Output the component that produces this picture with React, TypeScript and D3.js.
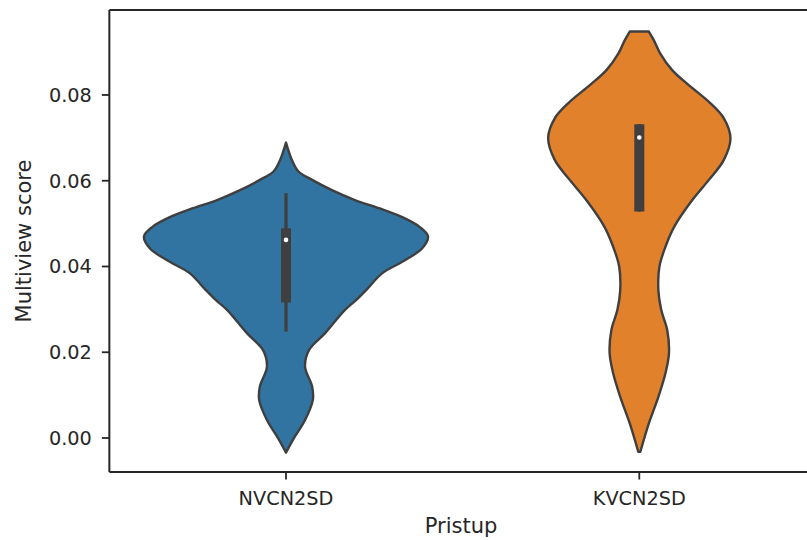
import React from "react";
import * as d3 from "d3";

const categories = ["NVCN2SD", "KVCN2SD"];
const colors = ["#3274a1", "#e1812c"];

// density outlines: value along y, half-width in category units
const nvValues = [0.0689, 0.0648, 0.0621, 0.0602, 0.0578, 0.0555, 0.0536, 0.0515, 0.0493, 0.047, 0.0442, 0.0411, 0.0384, 0.0345, 0.0322, 0.0299, 0.0244, 0.0205, 0.0166, 0.012, 0.0089, 0.0042, 0.0003, -0.0034];
const nvWidths = [0, 0.017, 0.036, 0.074, 0.13, 0.195, 0.263, 0.329, 0.377, 0.402, 0.385, 0.329, 0.272, 0.227, 0.199, 0.167, 0.11, 0.065, 0.054, 0.074, 0.076, 0.054, 0.025, 0];
const kvValues = [0.0948, 0.0928, 0.0897, 0.0858, 0.0823, 0.0784, 0.0746, 0.0699, 0.0648, 0.0602, 0.0555, 0.0493, 0.0446, 0.04, 0.0345, 0.0299, 0.0252, 0.0198, 0.0151, 0.0096, 0.0034, -0.0032];
const kvWidths = [0.027, 0.041, 0.059, 0.093, 0.14, 0.197, 0.239, 0.258, 0.239, 0.197, 0.15, 0.099, 0.074, 0.057, 0.054, 0.062, 0.079, 0.084, 0.074, 0.054, 0.027, 0.003];

const medians = [0.0462, 0.0701];
const q1s = [0.0316, 0.0528];
const q3s = [0.0489, 0.0732];
const whiskerLo = [0.0248, 0.0528];
const whiskerHi = [0.0571, 0.0732];

const yTicks = [0, 0.02, 0.04, 0.06, 0.08];
const yLabel = "Multiview score";
const xLabel = "Pristup";

export default function App() {
  const W = 807, H = 540;
  const x = d3.scaleLinear().domain([0, 1]).range([286, 639.3]);
  const y = d3.scaleLinear().domain([-0.00793, 0.09982]).range([472, 10]);
  const unit = x(1) - x(0);
  const left = x(-0.5);
  const right = x(1.5);
  const top = y.range()[1];
  const bottom = y.range()[0];
  const font = "DejaVu Sans, sans-serif";
  const textColor = "#262626";
  const lineColor = "#3f3f3f";

  const outlines = [
    nvValues.map((v, i) => ({ v, w: nvWidths[i] })),
    kvValues.map((v, i) => ({ v, w: kvWidths[i] })),
  ];

  return (
    <svg width={W} height={H} style={{ position: "absolute", left: 0, top: 0, background: "#fff" }}>
      {categories.map((c, i) => {
        const cx = x(i);
        const area = d3
          .area<{ v: number; w: number }>()
          .y((d) => y(d.v))
          .x0((d) => cx - d.w * unit)
          .x1((d) => cx + d.w * unit)
          .curve(d3.curveCatmullRom.alpha(0.5));
        return (
          <g key={c}>
            <path d={area(outlines[i]) || ""} fill={colors[i]} stroke={lineColor} strokeWidth={2.4} strokeLinejoin="round" />
            <line x1={cx} x2={cx} y1={y(whiskerLo[i])} y2={y(whiskerHi[i])} stroke={lineColor} strokeWidth={3.3} />
            <line x1={cx} x2={cx} y1={y(q1s[i])} y2={y(q3s[i])} stroke={lineColor} strokeWidth={10} />
            <circle cx={cx} cy={y(medians[i])} r={2.3} fill="#fff" />
          </g>
        );
      })}
      {/* spines */}
      <line x1={left} x2={left} y1={top} y2={bottom} stroke={textColor} strokeWidth={2} />
      <line x1={left} x2={right} y1={bottom} y2={bottom} stroke={textColor} strokeWidth={2} />
      <line x1={left} x2={right} y1={top} y2={top} stroke={textColor} strokeWidth={2} />
      <line x1={right} x2={right} y1={top} y2={bottom} stroke={textColor} strokeWidth={2} />
      {/* y ticks */}
      {yTicks.map((t) => (
        <g key={t}>
          <line x1={left - 7.5} x2={left} y1={y(t)} y2={y(t)} stroke={textColor} strokeWidth={1.8} />
          <text x={left - 17.5} y={y(t)} dy="0.36em" textAnchor="end" fontFamily={font} fontSize={19.3} fill={textColor}>
            {d3.format(".2f")(t)}
          </text>
        </g>
      ))}
      {/* x ticks */}
      {categories.map((c, i) => (
        <g key={c}>
          <line x1={x(i)} x2={x(i)} y1={bottom} y2={bottom + 7.5} stroke={textColor} strokeWidth={1.8} />
          <text x={x(i)} y={505} textAnchor="middle" fontFamily={font} fontSize={19.3} fill={textColor}>
            {c}
          </text>
        </g>
      ))}
      <text x={461} y={533} textAnchor="middle" fontFamily={font} fontSize={21} fill={textColor}>
        {xLabel}
      </text>
      <text transform={`translate(30.5,${(top + bottom) / 2}) rotate(-90)`} textAnchor="middle" fontFamily={font} fontSize={21} fill={textColor}>
        {yLabel}
      </text>
    </svg>
  );
}
